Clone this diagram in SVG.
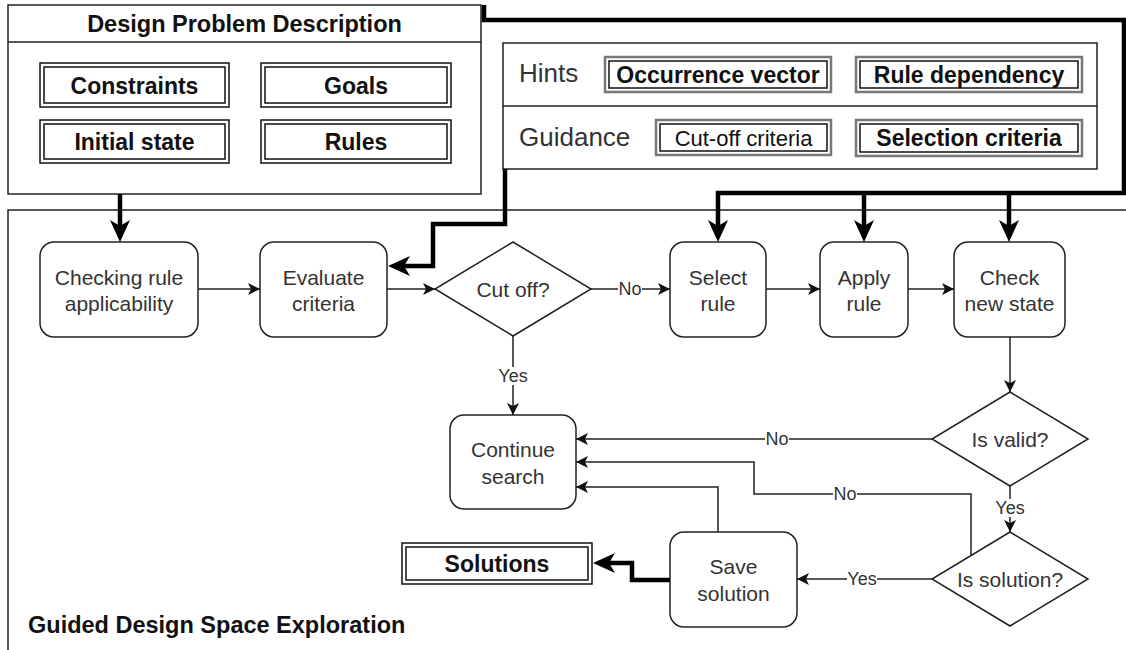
<svg xmlns="http://www.w3.org/2000/svg" width="1126" height="650" viewBox="0 0 1126 650">
<style>
  .frame { fill: #fff; stroke: #222; stroke-width: 1.5; }
  .node { fill: #fff; stroke: #222; stroke-width: 1.5; }
  .dbl { fill: none; stroke: #111; stroke-width: 1.5; }
  .gdbl { fill: none; stroke: #777; stroke-width: 2.5; }
  .t { font-family: "Liberation Sans", Arial, sans-serif; font-size: 21px; fill: #333; text-anchor: middle; dominant-baseline: central; }
  .b { font-family: "Liberation Sans", Arial, sans-serif; font-size: 23px; font-weight: bold; fill: #111; text-anchor: middle; dominant-baseline: central; }
  .h { font-family: "Liberation Sans", Arial, sans-serif; font-size: 26px; fill: #333; dominant-baseline: central; }
  .lbl { font-family: "Liberation Sans", Arial, sans-serif; font-size: 18px; fill: #333; text-anchor: middle; dominant-baseline: central; }
  .thin { fill: none; stroke: #222; stroke-width: 1.5; marker-end: url(#ah); }
  .thickA { fill: none; stroke: #000; stroke-width: 4.5; marker-end: url(#AH); }
</style>
<defs>
  <marker id="ah" markerUnits="userSpaceOnUse" markerWidth="12" markerHeight="12" viewBox="0 0 12 12" refX="12" refY="6" orient="auto">
    <path d="M0,0 L12,6 L0,12 L3,6 Z" fill="#111"/>
  </marker>
  <marker id="AH" markerUnits="userSpaceOnUse" markerWidth="22" markerHeight="20" viewBox="0 0 22 20" refX="6" refY="10" orient="auto">
    <path d="M0,0 L22,10 L0,20 L6,10 Z" fill="#000"/>
  </marker>
</defs>
<rect width="1126" height="650" fill="#fff"/>

<!-- Guided Design Space Exploration container -->
<g id="gdse">
  <rect class="frame" x="8" y="210" width="1130" height="460"/>
  <text class="b" x="28" y="625" style="text-anchor:start;font-size:23.5px">Guided Design Space Exploration</text>
</g>

<!-- Design Problem Description -->
<g id="dpd">
  <rect class="frame" x="8" y="5" width="473" height="189"/>
  <line x1="8" y1="42" x2="481" y2="42" stroke="#222" stroke-width="1.5"/>
  <text class="b" x="244.5" y="24" style="font-size:23.5px">Design Problem Description</text>
</g>
<g id="constraints">
  <rect class="dbl" x="40" y="63" width="189" height="44"/>
  <rect class="dbl" x="44" y="67" width="181" height="36"/>
  <text class="b" x="134.5" y="86">Constraints</text>
</g>
<g id="goals">
  <rect class="dbl" x="261" y="63" width="190" height="44"/>
  <rect class="dbl" x="265" y="67" width="182" height="36"/>
  <text class="b" x="356" y="86">Goals</text>
</g>
<g id="initial">
  <rect class="dbl" x="40" y="120" width="189" height="43"/>
  <rect class="dbl" x="44" y="124" width="181" height="35"/>
  <text class="b" x="134.5" y="142">Initial state</text>
</g>
<g id="rules">
  <rect class="dbl" x="261" y="120" width="190" height="43"/>
  <rect class="dbl" x="265" y="124" width="182" height="35"/>
  <text class="b" x="356" y="142">Rules</text>
</g>

<!-- Hints / Guidance -->
<g id="hintsbox">
  <rect class="frame" x="503" y="43" width="594" height="126"/>
  <line x1="503" y1="106" x2="1097" y2="106" stroke="#222" stroke-width="1.5"/>
  <text class="h" x="519" y="73">Hints</text>
  <text class="h" x="519" y="137">Guidance</text>
</g>
<g id="occvec">
  <rect class="gdbl" x="605" y="57" width="226" height="35"/>
  <rect class="dbl" x="609" y="61" width="218" height="27"/>
  <text class="b" x="718" y="75">Occurrence vector</text>
</g>
<g id="ruledep">
  <rect class="gdbl" x="856" y="57" width="226" height="35"/>
  <rect class="dbl" x="860" y="61" width="218" height="27"/>
  <text class="b" x="969" y="75">Rule dependency</text>
</g>
<g id="cutoffcrit">
  <rect class="gdbl" x="656" y="120" width="175" height="35"/>
  <rect class="dbl" x="660" y="124" width="167" height="27"/>
  <text class="t" x="743.5" y="138" style="font-size:22px;fill:#111">Cut-off criteria</text>
</g>
<g id="selcrit">
  <rect class="gdbl" x="856" y="120" width="226" height="36"/>
  <rect class="dbl" x="860" y="124" width="218" height="28"/>
  <text class="b" x="969" y="138">Selection criteria</text>
</g>

<!-- Process nodes -->
<g id="checking">
  <rect class="node" x="40" y="242" width="158" height="95" rx="14"/>
  <text class="t" x="119" y="277">Checking rule</text>
  <text class="t" x="119" y="303">applicability</text>
</g>
<g id="evaluate">
  <rect class="node" x="260" y="242" width="127" height="95" rx="14"/>
  <text class="t" x="323.5" y="277">Evaluate</text>
  <text class="t" x="323.5" y="303">criteria</text>
</g>
<g id="cutoff">
  <polygon class="node" points="513,242 591,289 513,336 435,289"/>
  <text class="t" x="513" y="289">Cut off?</text>
</g>
<g id="select">
  <rect class="node" x="670" y="242" width="96" height="95" rx="14"/>
  <text class="t" x="718" y="277">Select</text>
  <text class="t" x="718" y="303">rule</text>
</g>
<g id="apply">
  <rect class="node" x="820" y="242" width="88" height="95" rx="14"/>
  <text class="t" x="864" y="277">Apply</text>
  <text class="t" x="864" y="303">rule</text>
</g>
<g id="checknew">
  <rect class="node" x="954" y="242" width="111" height="95" rx="14"/>
  <text class="t" x="1009.5" y="277">Check</text>
  <text class="t" x="1009.5" y="303">new state</text>
</g>
<g id="isvalid">
  <polygon class="node" points="1010,392 1088,439 1010,486 932,439"/>
  <text class="t" x="1010" y="439">Is valid?</text>
</g>
<g id="issolution">
  <polygon class="node" points="1010,532 1088,579 1010,626 932,579"/>
  <text class="t" x="1010" y="579">Is solution?</text>
</g>
<g id="continue">
  <rect class="node" x="450" y="415" width="126" height="94" rx="14"/>
  <text class="t" x="513" y="449">Continue</text>
  <text class="t" x="513" y="476">search</text>
</g>
<g id="save">
  <rect class="node" x="670" y="532" width="127" height="95" rx="14"/>
  <text class="t" x="733.5" y="566">Save</text>
  <text class="t" x="733.5" y="593">solution</text>
</g>
<g id="solutions">
  <rect class="dbl" x="402" y="543" width="190" height="41"/>
  <rect class="dbl" x="406" y="547" width="182" height="33"/>
  <text class="b" x="497" y="564">Solutions</text>
</g>

<!-- Connectors -->
<g id="connectors">
  <path class="thickA" d="M120,194 V226"/>
  <path class="thickA" d="M505,169 V224 H433 V266 H404"/>
  <path class="thickA" d="M484,5 V20 H1124 V193 H718 V226"/>
  <path class="thickA" d="M864,193 V226"/>
  <path class="thickA" d="M1009,193 V226"/>
  <path class="thickA" d="M670,580 H632 V563 H609"/>

  <path class="thin" d="M198,289 H260"/>
  <path class="thin" d="M387,289 H435"/>
  <path class="thin" d="M591,289 H670"/>
  <path class="thin" d="M766,289 H820"/>
  <path class="thin" d="M908,289 H954"/>
  <path class="thin" d="M513,336 V415"/>
  <path class="thin" d="M1010,337 V392"/>
  <path class="thin" d="M932,439 H576"/>
  <path class="thin" d="M1010,486 V532"/>
  <path class="thin" d="M971,555 V494 H754 V462 H576"/>
  <path class="thin" d="M932,579 H797"/>
  <path class="thin" d="M718,532 V487 H576"/>

  <rect x="618" y="280" width="24" height="18" fill="#fff"/>
  <text class="lbl" x="630" y="289">No</text>
  <rect x="499" y="367" width="28" height="18" fill="#fff"/>
  <text class="lbl" x="513" y="376">Yes</text>
  <rect x="765" y="430" width="24" height="18" fill="#fff"/>
  <text class="lbl" x="777" y="439">No</text>
  <rect x="833" y="485" width="24" height="18" fill="#fff"/>
  <text class="lbl" x="845" y="494">No</text>
  <rect x="996" y="499" width="28" height="18" fill="#fff"/>
  <text class="lbl" x="1010" y="508">Yes</text>
  <rect x="847" y="570" width="30" height="18" fill="#fff"/>
  <text class="lbl" x="862" y="579">Yes</text>
</g>
</svg>
